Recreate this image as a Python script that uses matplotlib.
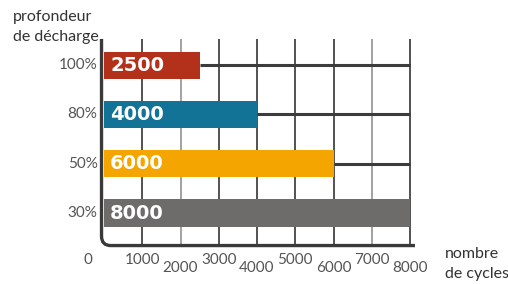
import matplotlib.pyplot as plt
from matplotlib.path import Path
from matplotlib.patches import PathPatch

# data
categories = ["30%", "50%", "80%", "100%"]
cycles = [8000, 6000, 4000, 2500]
colors = ["#6e6b6b", "#f5a500", "#137396", "#b3301a"]
xticks = [1000, 2000, 3000, 4000, 5000, 6000, 7000, 8000]

plt.rcParams["font.family"] = ["Lato", "DejaVu Sans"]

W, H = 508, 284
fig = plt.figure(figsize=(W / 100, H / 100), dpi=100)
# axes placed in pixel coords
l, r, t, b = 98, 420, 37, 249
ax = fig.add_axes([l / W, 1 - b / H, (r - l) / W, (b - t) / H])
ax.set_xlim(-157, 8261)
ax.set_ylim(-0.73, 3.57)
ax.axis("off")

ypos = list(range(len(categories)))
grid_bottom, grid_top = -0.66, 3.53

# vertical grid lines
for x in xticks:
    c = "#9a9a9a" if x in (2000, 7000) else "#444444"
    ax.vlines(x, grid_bottom, grid_top, color=c, lw=1.3, zorder=1)

# horizontal lines from bar end to max
ax.hlines(ypos, cycles, max(xticks), color="#3c3c3c", lw=2.2, zorder=1)

ax.barh(ypos, cycles, height=0.55, color=colors, zorder=2)
for y, v in zip(ypos, cycles):
    ax.text(160, y, str(v), color="white", fontsize=14, fontweight="bold",
            family="DejaVu Sans", va="center", ha="left", zorder=3)

# left + bottom axis with rounded corner
x0, y0 = -65, grid_bottom
rx, ry = 240, 0.19
verts = [(x0, grid_top), (x0, y0 + ry), (x0, y0), (x0 + rx, y0), (8130, y0)]
codes = [Path.MOVETO, Path.LINETO, Path.CURVE3, Path.CURVE3, Path.LINETO]
ax.add_patch(PathPatch(Path(verts, codes), fill=False, lw=2.4,
                       edgecolor="#3a3a3a", zorder=4, clip_on=False,
                       capstyle="butt"))

# y labels
for y, c in zip(ypos, categories):
    ax.text(-170, y, c, ha="right", va="center", fontsize=11, color="#555555")

# x labels, staggered
ax.text(-420, -0.95, "0", ha="center", va="center", fontsize=11, color="#555555")
for i, x in enumerate(xticks):
    yy = -0.95 if i % 2 == 0 else -1.12
    ax.text(x, yy, str(x), ha="center", va="center", fontsize=11, color="#555555")

title_kw = dict(fontsize=11.5, color="#333333", va="center", ha="left")
fig.text(13 / W, 1 - 17 / H, "profondeur", **title_kw)
fig.text(13 / W, 1 - 37 / H, "de décharge", **title_kw)
fig.text(445 / W, 1 - 254 / H, "nombre", **title_kw)
fig.text(445 / W, 1 - 274 / H, "de cycles", **title_kw)

fig.savefig("out.png", dpi=100, facecolor="white")
